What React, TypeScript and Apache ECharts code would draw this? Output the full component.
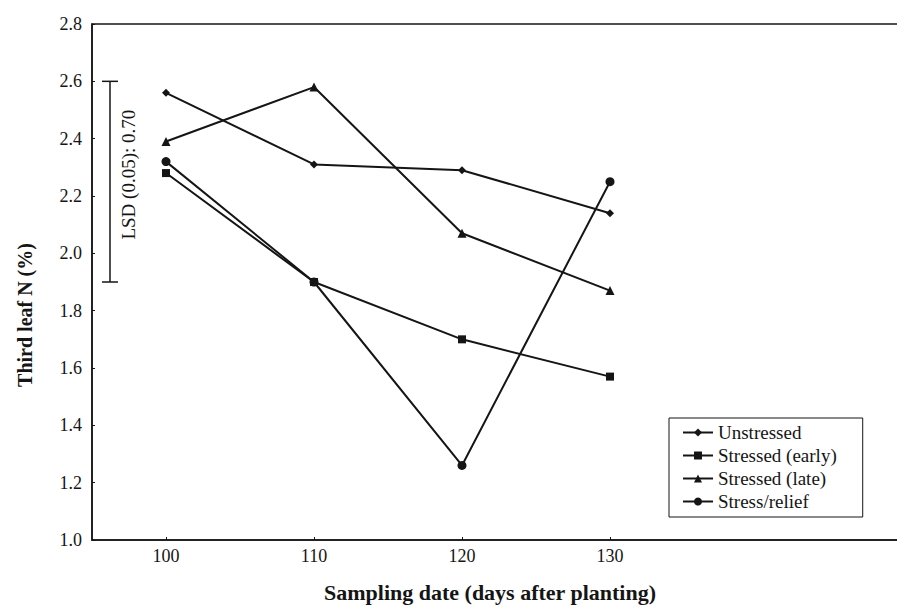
import React, { useEffect, useRef } from "react";
import * as echarts from "echarts";

// Sampling dates (days after planting)
const days = [100, 110, 120, 130];
// Third leaf N (%) per treatment
const unstressed = [2.56, 2.31, 2.29, 2.14];
const stressedEarly = [2.28, 1.9, 1.7, 1.57];
const stressedLate = [2.39, 2.58, 2.07, 1.87];
const stressRelief = [2.32, 1.9, 1.26, 2.25];
const seriesNames = ["Unstressed", "Stressed (early)", "Stressed (late)", "Stress/relief"];
// Least significant difference bar
const lsdLow = 1.9;
const lsdValue = 0.7;

const ink = "#151515";
const serif = '"Liberation Serif", "DejaVu Serif", serif';

function pairs(values: number[]) {
  return values.map((v, i) => [days[i], v]);
}

export default function App() {
  const ref = useRef<HTMLDivElement>(null);

  useEffect(() => {
    if (!ref.current) return;
    const chart = echarts.init(ref.current, null, { renderer: "svg" });
    const lineSeries = (name: string, values: number[], symbol: string, size: number) => ({
      name,
      type: "line",
      data: pairs(values),
      symbol,
      symbolSize: size,
      lineStyle: { color: ink, width: 2 },
      itemStyle: { color: ink },
      z: 3,
    });
    chart.setOption({
      animation: false,
      backgroundColor: "#fff",
      grid: {
        left: 92,
        top: 24,
        right: 20,
        bottom: 65,
        show: true,
        borderColor: ink,
        borderWidth: 1.5,
      },
      xAxis: {
        type: "value",
        min: 95,
        max: 155,
        interval: 5,
        axisLine: { show: true, lineStyle: { color: ink, width: 1.5 } },
        axisTick: { show: true, inside: true, length: 3, customValues: days, lineStyle: { color: ink } },
        axisLabel: {
          customValues: days,
          color: ink,
          fontFamily: serif,
          fontSize: 18,
          margin: 7,
        },
        splitLine: { show: false },
      },
      yAxis: {
        type: "value",
        min: 1.0,
        max: 2.8,
        interval: 0.2,
        axisLine: { show: true, lineStyle: { color: ink, width: 1.5 } },
        axisTick: { show: true, inside: true, length: 3, lineStyle: { color: ink } },
        axisLabel: {
          color: ink,
          fontFamily: serif,
          fontSize: 18,
          margin: 10,
          formatter: (v: number) => v.toFixed(1),
        },
        splitLine: { show: false },
      },
      legend: {
        data: seriesNames,
        orient: "vertical",
        left: 669,
        top: 418,
        backgroundColor: "#fff",
        borderColor: ink,
        borderWidth: 1,
        padding: [5, 26, 6, 13],
        itemWidth: 30,
        itemHeight: 10,
        itemGap: 4,
        textStyle: { color: ink, fontFamily: serif, fontSize: 19, lineHeight: 18 },
      },
      series: [
        lineSeries(seriesNames[0], unstressed, "diamond", 8),
        lineSeries(seriesNames[1], stressedEarly, "rect", 8),
        lineSeries(seriesNames[2], stressedLate, "triangle", 9),
        lineSeries(seriesNames[3], stressRelief, "circle", 9),
        {
          name: "LSD",
          type: "custom",
          silent: true,
          data: [[days[0], lsdLow, lsdLow + lsdValue]],
          renderItem: (params: any, api: any) => {
            const x0 = params.coordSys.x;
            const yBottom = api.coord([days[0], api.value(1)])[1];
            const yTop = api.coord([days[0], api.value(2)])[1];
            const bx = x0 + 18;
            const cap = 8;
            const stroke = { stroke: ink, lineWidth: 1.5 };
            return {
              type: "group",
              children: [
                { type: "line", shape: { x1: bx, y1: yTop, x2: bx, y2: yBottom }, style: stroke },
                { type: "line", shape: { x1: bx - cap, y1: yTop, x2: bx + cap, y2: yTop }, style: stroke },
                { type: "line", shape: { x1: bx - cap, y1: yBottom, x2: bx + cap, y2: yBottom }, style: stroke },
                {
                  type: "text",
                  x: x0 + 36,
                  y: (yTop + yBottom) / 2 - 7,
                  rotation: Math.PI / 2,
                  style: {
                    text: `LSD (0.05): ${lsdValue.toFixed(2)}`,
                    font: `19px ${serif}`,
                    fill: ink,
                    align: "center",
                    verticalAlign: "middle",
                    textAlign: "center",
                    textVerticalAlign: "middle",
                  },
                },
              ],
            };
          },
        },
      ],
      graphic: [
        {
          type: "text",
          x: 25,
          y: 315,
          rotation: Math.PI / 2,
          style: {
            text: "Third leaf N (%)",
            font: `bold 20px ${serif}`,
            fill: ink,
            align: "center",
            verticalAlign: "middle",
            textAlign: "center",
            textVerticalAlign: "middle",
          },
        },
        {
          type: "text",
          x: 490,
          y: 592,
          style: {
            text: "Sampling date (days after planting)",
            font: `bold 22px ${serif}`,
            fill: ink,
            align: "center",
            verticalAlign: "middle",
            textAlign: "center",
            textVerticalAlign: "middle",
          },
        },
      ],
    });
    return () => chart.dispose();
  }, []);

  return (
    <div
      style={{
        position: "fixed",
        left: 0,
        top: 0,
        width: 897,
        height: 605,
        overflow: "hidden",
        background: "#fff",
      }}
    >
      <div ref={ref} style={{ width: 1000, height: 605 }} />
    </div>
  );
}
